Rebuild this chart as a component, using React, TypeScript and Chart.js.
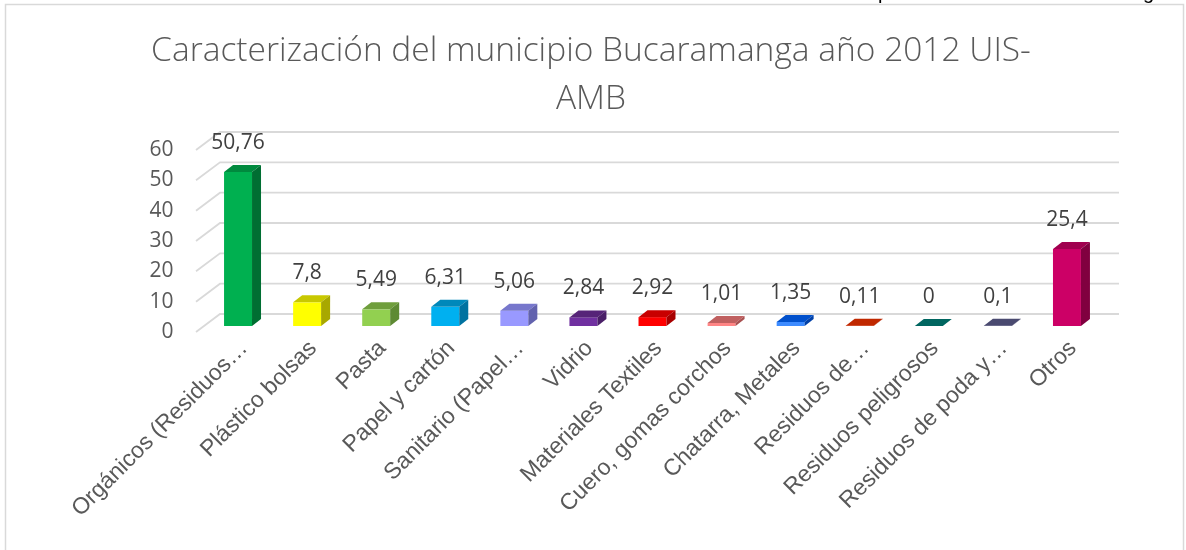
import React, { useEffect, useRef } from 'react';
import { Chart, registerables } from 'chart.js';

Chart.register(...registerables);

const titleLines = ['Caracterización del municipio Bucaramanga año 2012 UIS-', 'AMB'];

const categories = [
  'Orgánicos (Residuos…',
  'Plástico bolsas',
  'Pasta',
  'Papel y cartón',
  'Sanitario (Papel…',
  'Vidrio',
  'Materiales Textiles',
  'Cuero, gomas corchos',
  'Chatarra, Metales',
  'Residuos de…',
  'Residuos peligrosos',
  'Residuos de poda y…',
  'Otros',
];

const values = [50.76, 7.8, 5.49, 6.31, 5.06, 2.84, 2.92, 1.01, 1.35, 0.11, 0, 0.1, 25.4];

const frontColors = ['#00B050', '#FFFF00', '#92D050', '#00B0F0', '#9999FF', '#7030A0', '#FF0000', '#FF8585', '#3D8BFF', '#E03A10', '#007A74', '#5A5A88', '#CC0066'];
const topColors = ['#008A3E', '#C8C800', '#6F9E3C', '#0088BA', '#7777CC', '#562478', '#C80000', '#C06060', '#0050CC', '#C02800', '#006660', '#4A4A70', '#A0004F'];
const sideColors = ['#006E32', '#A8A800', '#5E8A33', '#0072A0', '#6262AE', '#4A1F68', '#A80000', '#A85050', '#0040A8', '#A02000', '#005550', '#3C3C5E', '#80003F'];

const yMin = 0;
const yMax = 60;
const yStep = 10;

const BAR_SHIFT_Y = -6;
const DEPTH_X = 9;
const DEPTH_Y = -7;
const WALL_DX = 24;
const WALL_DY = -18;

const fmt = (v: number) => String(v).replace('.', ',');

const threeD = {
  id: 'threeD',
  beforeDraw(chart: any) {
    const ctx = chart.ctx;
    ctx.save();
    ctx.strokeStyle = '#D9D9D9';
    ctx.lineWidth = 1.5;
    ctx.strokeRect(5.5, 4.5, 1178, 700);
    ctx.fillStyle = '#000';
    ctx.font = '20px "Liberation Sans"';
    ctx.textBaseline = 'alphabetic';
    ctx.fillText('p', 878, -1);
    ctx.fillText('g', 1143, -1);
    ctx.fillStyle = '#595959';
    ctx.font = '300 33.5px "Open Sans"';
    ctx.textAlign = 'center';
    ctx.textBaseline = 'middle';
    titleLines.forEach((t, i) => ctx.fillText(t, 591, 51 + i * 48));
    ctx.restore();
  },
  beforeDatasetsDraw(chart: any) {
    const ctx = chart.ctx;
    const y = chart.scales.y;
    const area = chart.chartArea;
    ctx.save();
    ctx.strokeStyle = '#D9D9D9';
    ctx.lineWidth = 1.8;
    const frontX = area.left - 7.5;
    const backX = frontX + WALL_DX;
    const backRight = area.right + 17.5;
    for (let v = yMin; v <= yMax; v += yStep) {
      const yf = y.getPixelForValue(v);
      ctx.beginPath();
      ctx.moveTo(frontX, yf);
      ctx.lineTo(backX, yf + WALL_DY);
      ctx.lineTo(backRight, yf + WALL_DY);
      ctx.stroke();
    }
    ctx.restore();
    ctx.save();
    ctx.translate(0, BAR_SHIFT_Y);
  },
  afterDatasetsDraw(chart: any) {
    const ctx = chart.ctx;
    const meta = chart.getDatasetMeta(0);
    meta.data.forEach((el: any, i: number) => {
      const { x, y, base, width } = el.getProps(['x', 'y', 'base', 'width'], true);
      const l = x - width / 2;
      const r = x + width / 2;
      ctx.fillStyle = topColors[i];
      ctx.beginPath();
      ctx.moveTo(l, y);
      ctx.lineTo(l + DEPTH_X, y + DEPTH_Y);
      ctx.lineTo(r + DEPTH_X, y + DEPTH_Y);
      ctx.lineTo(r, y);
      ctx.closePath();
      ctx.fill();
      ctx.fillStyle = sideColors[i];
      ctx.beginPath();
      ctx.moveTo(r, y);
      ctx.lineTo(r + DEPTH_X, y + DEPTH_Y);
      ctx.lineTo(r + DEPTH_X, base + DEPTH_Y);
      ctx.lineTo(r, base);
      ctx.closePath();
      ctx.fill();
      ctx.fillStyle = '#404040';
      ctx.font = '21px "Open Sans"';
      ctx.textAlign = 'center';
      ctx.textBaseline = 'middle';
      ctx.fillText(fmt(values[i]), x, y - 29);
    });
    ctx.restore();
  },
};

export default function App() {
  const ref = useRef<HTMLCanvasElement>(null);
  useEffect(() => {
    if (!ref.current) return;
    const chart = new Chart(ref.current, {
      type: 'bar',
      data: {
        labels: categories,
        datasets: [
          {
            data: values,
            backgroundColor: frontColors,
            borderWidth: 0,
            categoryPercentage: 1,
            barPercentage: 0.405,
            clip: false as any,
          },
        ],
      },
      options: {
        animation: false,
        responsive: false,
        maintainAspectRatio: false,
        layout: { padding: { left: 0, right: 84.5, top: 150, bottom: 0 } },
        plugins: {
          legend: { display: false },
          tooltip: { enabled: false },
          title: { display: false },
        },
        scales: {
          x: {
            grid: { display: false, drawTicks: false },
            border: { display: false },
            ticks: {
              autoSkip: false,
              minRotation: 45,
              maxRotation: 45,
              padding: 3,
              labelOffset: 6,
              color: '#595959',
              font: { family: '"Liberation Sans"', size: 23 },
            },
            afterFit: (s: any) => {
              s.height = 218;
            },
          },
          y: {
            min: yMin,
            max: yMax,
            grid: { display: false, drawTicks: false },
            border: { display: false },
            ticks: {
              stepSize: yStep,
              padding: 30,
              color: '#595959',
              font: { family: '"Open Sans"', size: 21 },
            },
            afterFit: (s: any) => {
              s.width = 203.5;
            },
          },
        },
      },
      plugins: [threeD],
    });
    return () => chart.destroy();
  }, []);
  return (
    <div style={{ position: 'absolute', left: 0, top: 0, width: 1186, height: 550, overflow: 'hidden', background: '#fff' }}>
      <canvas ref={ref} width={1186} height={550} style={{ display: 'block' }} />
    </div>
  );
}
